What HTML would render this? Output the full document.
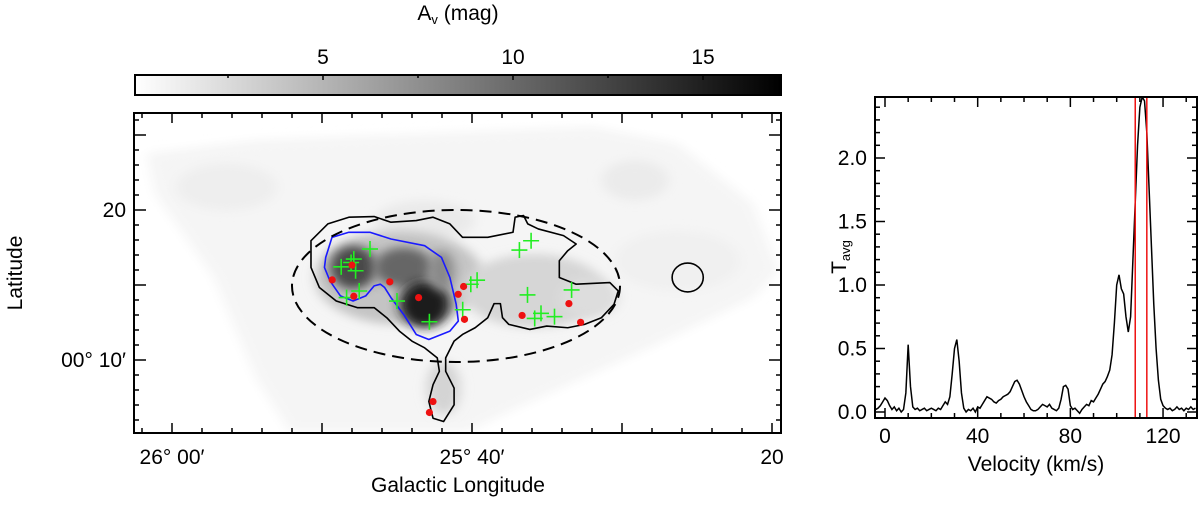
<!DOCTYPE html>
<html><head><meta charset="utf-8"><style>
html,body{margin:0;padding:0;background:#fff;}
svg{display:block;font-family:"Liberation Sans",Arial,sans-serif;}
</style></head><body>
<svg id="fig" width="1200" height="508" viewBox="0 0 1200 508" xmlns="http://www.w3.org/2000/svg">
<defs>
<linearGradient id="cbg" x1="0" x2="1" y1="0" y2="0"><stop offset="0" stop-color="#fff"/><stop offset="1" stop-color="#000"/></linearGradient>
<filter id="bl" x="-50%" y="-50%" width="200%" height="200%"><feGaussianBlur stdDeviation="14"/></filter>
<clipPath id="mapclip"><rect x="134" y="113" width="647" height="320"/></clipPath>
<clipPath id="specclip"><rect x="875" y="97" width="322" height="321"/></clipPath>
</defs>

<!-- colorbar -->
<text x="458" y="20" font-size="21" text-anchor="middle">A<tspan font-size="13" dy="4">v</tspan><tspan dy="-4"> (mag)</tspan></text>
<rect x="135" y="75" width="646" height="20" fill="url(#cbg)" stroke="#000" stroke-width="2"/>
<g id="cbticks"></g>

<!-- map -->
<g clip-path="url(#mapclip)">
  <g transform="translate(130,110) scale(0.4209,0.335)">
    <polygon points="40,130 300,90 700,70 1100,50 1300,100 1480,280 1540,480 1480,560 1250,700 900,900 800,960 380,960 300,800 200,500 60,250" fill="#f5f5f5" filter="url(#bl)"/>
    <ellipse cx="230" cy="230" rx="120" ry="70" fill="#eeeeee" filter="url(#bl)"/>
    <ellipse cx="1200" cy="210" rx="80" ry="60" fill="#ebebeb" filter="url(#bl)"/>
    <ellipse cx="1300" cy="450" rx="150" ry="90" fill="#f0f0f0" filter="url(#bl)"/>
    <ellipse cx="700" cy="330" rx="120" ry="60" fill="#eaeaea" filter="url(#bl)"/>
    <ellipse cx="640" cy="500" rx="200" ry="140" fill="#c4c4c4" filter="url(#bl)"/>
    <ellipse cx="960" cy="540" rx="170" ry="110" fill="#d6d6d6" filter="url(#bl)"/>
    <ellipse cx="1090" cy="560" rx="70" ry="60" fill="#dddddd" filter="url(#bl)"/>
    <ellipse cx="745" cy="830" rx="40" ry="80" fill="#d4d4d4" filter="url(#bl)"/>
    <ellipse cx="530" cy="470" rx="55" ry="65" fill="#4a4a4a" filter="url(#bl)"/>
    <ellipse cx="650" cy="470" rx="70" ry="60" fill="#666" filter="url(#bl)"/>
    <ellipse cx="700" cy="580" rx="60" ry="70" fill="#1e1e1e" filter="url(#bl)"/>
    <ellipse cx="740" cy="480" rx="30" ry="60" fill="#888" filter="url(#bl)"/>
    <path d="M430,390 L470,340 L520,320 L580,318 L620,335 L680,330 L720,320 L760,340 L790,380 L850,380 L910,365 L915,320 L935,315 L945,340 L970,355 L1030,375 L1060,400 L1040,420 L1020,450 L1020,500 L1060,520 L1140,515 L1160,540 L1150,580 L1120,620 L1080,640 L1040,650 L990,645 L950,655 L900,640 L885,620 L880,578 L865,578 L850,620 L820,650 L790,670 L770,690 L750,740 L750,780 L770,830 L770,880 L745,930 L720,920 L710,870 L720,820 L735,780 L730,740 L700,710 L670,690 L640,660 L610,620 L580,590 L540,590 L490,570 L450,530 L430,470 Z" fill="none" stroke="#000" stroke-width="1.6" stroke-linejoin="round" vector-effect="non-scaling-stroke"/>
    <ellipse cx="1325" cy="500" rx="37" ry="43" fill="none" stroke="#000" stroke-width="1.6" vector-effect="non-scaling-stroke"/>
    <path d="M465,440 L480,380 L520,365 L570,365 L620,385 L700,405 L740,440 L760,500 L775,580 L780,630 L760,660 L710,685 L680,670 L650,610 L620,560 L605,530 L595,520 L580,525 L560,555 L530,570 L500,555 L475,510 L462,470 Z" fill="none" stroke="#1a1aff" stroke-width="1.6" stroke-linejoin="round" vector-effect="non-scaling-stroke"/>
  </g>
  <ellipse cx="456" cy="286" rx="164" ry="76" fill="none" stroke="#000" stroke-width="2" stroke-dasharray="12,7"/>
  <g id="crosses"></g>
  <g id="dots"></g>
</g>
<rect x="134" y="113" width="647" height="320" fill="none" stroke="#000" stroke-width="2"/>
<g id="mapticks"></g>
<text x="172" y="464" font-size="21" text-anchor="middle">26° 00′</text>
<text x="472" y="464" font-size="21" text-anchor="middle">25° 40′</text>
<text x="772" y="464" font-size="21" text-anchor="middle">20</text>
<text x="458" y="492" font-size="21" text-anchor="middle">Galactic Longitude</text>
<text x="126" y="217" font-size="21" text-anchor="end">20</text>
<text x="126" y="367" font-size="21" text-anchor="end">00° 10′</text>
<text transform="translate(22,273) rotate(-90)" font-size="21" text-anchor="middle">Latitude</text>

<!-- spectrum -->
<g clip-path="url(#specclip)">
  <g id="spec"></g>
</g>
<rect x="875" y="97" width="322" height="321" fill="none" stroke="#000" stroke-width="2"/>
<g id="specticks"></g>
<text x="1036" y="471" font-size="21" text-anchor="middle">Velocity (km/s)</text>
<text transform="translate(846,257) rotate(-90)" font-size="21" text-anchor="middle">T<tspan font-size="13" dy="4">avg</tspan></text>
</svg>
<script>
const NS="http://www.w3.org/2000/svg";
// ---- map data ----
const crossLon=[25.780,25.798,25.812,25.801,25.796,25.792,25.806,25.750,25.714,25.677,25.668,25.661,25.614,25.601,25.605,25.597,25.590,25.575,25.556];
const crossLat=[17.40,16.73,16.21,16.50,15.95,14.60,14.16,13.93,12.55,13.35,15.05,15.32,17.33,17.95,14.34,12.77,13.11,12.89,14.67];
const dotLon=[25.800,25.822,25.798,25.758,25.726,25.676,25.682,25.675,25.611,25.559,25.546,25.710,25.714];
const dotLat=[16.33,15.34,14.25,15.21,14.16,14.90,14.38,12.71,12.97,13.76,12.51,7.23,6.50];
const cbTicks=[2.5,5,7.5,10,12.5,15];
const cbLabels=["5","10","15"];
// ---- spectrum data ----
const vel=[];for(let v=-4;v<=134;v++)vel.push(v);
const tavg=[0.02,0.03,0.05,0.08,0.11,0.09,0.05,0.02,0.04,0.01,0.03,0.00,0.02,0.15,0.53,0.20,0.04,0.02,0.03,0.01,0.02,0.03,0.01,0.02,0.03,0.02,0.01,0.03,0.02,0.05,0.08,0.06,0.12,0.30,0.50,0.57,0.40,0.15,0.03,0.00,0.02,0.01,0.03,0.00,0.04,0.03,0.06,0.09,0.12,0.11,0.10,0.08,0.07,0.09,0.10,0.12,0.13,0.14,0.16,0.20,0.24,0.25,0.22,0.17,0.12,0.08,0.05,0.02,0.01,0.01,0.02,0.04,0.06,0.05,0.04,0.06,0.03,0.02,0.01,0.03,0.10,0.20,0.21,0.18,0.05,0.02,0.03,0.01,-0.01,0.02,0.04,0.06,0.05,0.09,0.08,0.11,0.14,0.18,0.22,0.24,0.28,0.33,0.45,0.70,1.00,1.08,0.97,0.93,0.75,0.63,0.75,1.20,1.65,2.10,2.40,2.48,2.45,2.20,1.75,1.30,0.85,0.50,0.25,0.10,0.05,0.03,0.02,0.03,0.01,0.02,0.04,0.02,0.03,0.01,0.03,0.02,0.04,0.02,0.03,0.02];
const redLines=[108,113];
const vTicks=[0,40,80,120];
const tTicks=[0,0.5,1.0,1.5,2.0];

const xL=l=>172+(26-l)*60*15;
const yB=b=>210+(20-b)*15;
const xC=a=>133+a*38;
const xV=v=>885+v*2.317;
const yT=t=>412-t*127;

function line(g,x1,y1,x2,y2,c,w){const e=document.createElementNS(NS,"line");e.setAttribute("x1",x1);e.setAttribute("y1",y1);e.setAttribute("x2",x2);e.setAttribute("y2",y2);e.setAttribute("stroke",c||"#000");e.setAttribute("stroke-width",w||1.5);g.appendChild(e);return e;}
function txt(g,x,y,s,anchor){const e=document.createElementNS(NS,"text");e.setAttribute("x",x);e.setAttribute("y",y);e.setAttribute("font-size","21");e.setAttribute("text-anchor",anchor||"middle");e.textContent=s;g.appendChild(e);return e;}

// colorbar ticks
const cbg=document.getElementById("cbticks");
cbTicks.forEach(a=>{const e=line(cbg,xC(a),75,xC(a),a%5===0?80:78);

});
cbLabels.forEach(s=>{const e=txt(cbg,xC(+s),64,s);

});

// crosses
const cg=document.getElementById("crosses");
crossLon.forEach((l,i)=>{const x=xL(l),y=yB(crossLat[i]);const g=document.createElementNS(NS,"g");


line(g,x-8,y,x+8,y,"#22ee22",1.6);line(g,x,y-8,x,y+8,"#22ee22",1.6);cg.appendChild(g);});
const dg=document.getElementById("dots");
dotLon.forEach((l,i)=>{const c=document.createElementNS(NS,"circle");c.setAttribute("cx",xL(l));c.setAttribute("cy",yB(dotLat[i]));c.setAttribute("r",3.6);c.setAttribute("fill","#ee1111");


dg.appendChild(c);});

// map ticks
const mt=document.getElementById("mapticks");
for(let m=-2;m<=40;m+=2){const x=172+m*15;if(x<136||x>779)continue;const L=(m%10===0)?10:5;line(mt,x,433,x,433-L);line(mt,x,113,x,113+L);}
for(let b=0;b<=30;b++){const y=210+(20-b)*15;if(y<115||y>431)continue;const L=(b%5===0)?12:5;line(mt,134,y,134+L,y);line(mt,781,y,781-L,y);}

// spectrum
const sg=document.getElementById("spec");
const p=document.createElementNS(NS,"polyline");
p.setAttribute("points",vel.map((v,i)=>xV(v)+","+yT(tavg[i])).join(" "));
p.setAttribute("fill","none");p.setAttribute("stroke","#000");p.setAttribute("stroke-width","1.5");


sg.appendChild(p);
redLines.forEach(v=>{const e=line(sg,xV(v),97,xV(v),418,"#ee1111",1.5);

});
const st=document.getElementById("specticks");
for(let v=0;v<=130;v+=10){const L=v%40===0?10:5;line(st,xV(v),418,xV(v),418-L);line(st,xV(v),97,xV(v),97+L);}
for(let k=0;k<=24;k++){const t=k*0.1;const y=yT(t);const L=(k%5===0)?10:5;line(st,875,y,875+L,y);line(st,1197,y,1197-L,y);}
vTicks.forEach(v=>{const e=txt(st,xV(v),443,String(v));

});
tTicks.forEach(t=>{const e=txt(st,867,yT(t)+7,t.toFixed(1),"end");

});
</script>
</body></html>
